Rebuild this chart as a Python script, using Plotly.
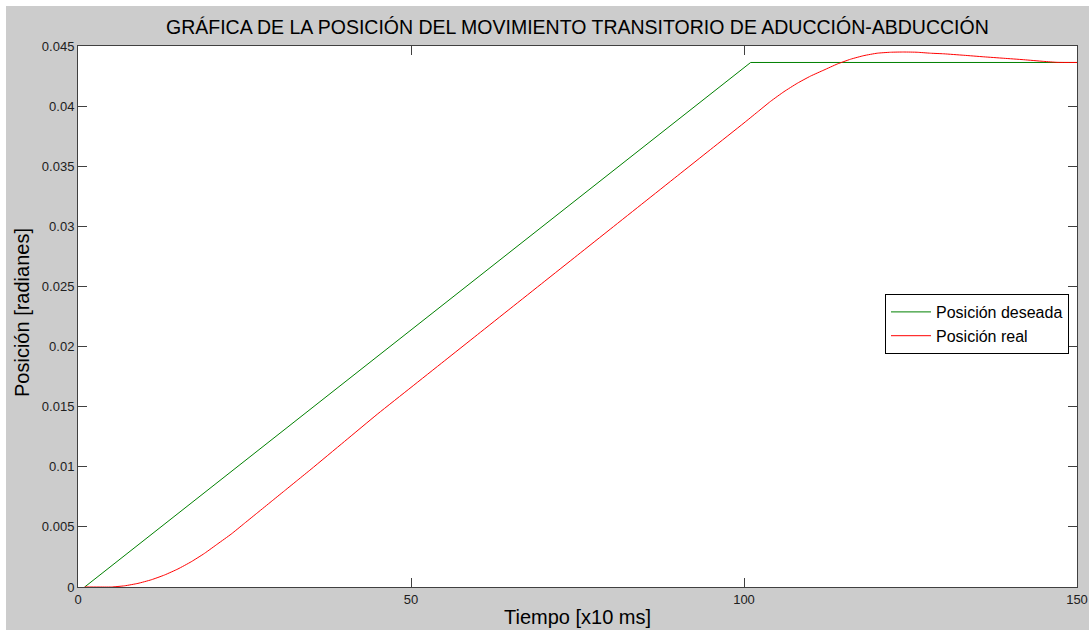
import plotly.graph_objects as go

# Desired position (green): linear ramp then hold
t_deseada = [1, 101, 150]
pos_deseada = [0.0, 0.04363, 0.04363]

# Real position (red)
t_real = [1, 3, 5, 7, 9, 11, 13, 15, 17, 19, 21, 23, 25, 27, 29, 31, 33, 35, 40, 45, 50,
          55, 60, 65, 70, 75, 80, 85, 90, 95, 100, 102, 104, 106, 108, 110, 112, 114,
          116, 118, 120, 122, 124, 126, 128, 130, 133, 136, 139, 142, 145, 147, 150]
pos_real = [0.0, 0.0, 0.0, 0.0001, 0.0003, 0.0006, 0.0010, 0.0015, 0.0021, 0.0028,
            0.0036, 0.0044, 0.0053, 0.0062, 0.0071, 0.0080, 0.0089, 0.0098, 0.0121,
            0.0144, 0.0166, 0.0188, 0.0210, 0.0232, 0.0254, 0.0276, 0.0298, 0.0320,
            0.0342, 0.0364, 0.0386, 0.0395, 0.0404, 0.0412, 0.0419, 0.0425, 0.0430,
            0.0435, 0.0439, 0.0442, 0.0444, 0.04448, 0.0445, 0.04448, 0.0444, 0.04435,
            0.04423, 0.0441, 0.04398, 0.04386, 0.04372, 0.04364, 0.04363]

x_ticks = [0, 50, 100, 150]
y_ticks = [0, 0.005, 0.01, 0.015, 0.02, 0.025, 0.03, 0.035, 0.04, 0.045]
y_tick_text = ["0", "0.005", "0.01", "0.015", "0.02", "0.025", "0.03", "0.035", "0.04", "0.045"]

FONT = "Liberation Sans, Arial, sans-serif"
W, H = 1089, 630
ML, MR, MT, MB = 78, 12, 46, 43
PW = W - ML - MR
PH = H - MT - MB

fig = go.Figure()
fig.add_trace(go.Scatter(x=t_deseada, y=pos_deseada, mode="lines",
                         line=dict(color="#008000", width=1), name="Posición deseada"))
fig.add_trace(go.Scatter(x=t_real, y=pos_real, mode="lines",
                         line=dict(color="#ff0000", width=1, shape="spline", smoothing=0.5),
                         name="Posición real"))

axis_common = dict(showline=True, linecolor="#404040", linewidth=1, mirror="ticks",
                   ticks="inside", ticklen=9, tickcolor="#404040", showgrid=False,
                   zeroline=False, tickfont=dict(family=FONT, size=13, color="#202020"))

fig.update_xaxes(range=[0, 150], tickvals=x_ticks, **axis_common)
fig.update_yaxes(range=[0, 0.045], tickvals=y_ticks, ticktext=y_tick_text, **axis_common)

def px(x):
    return (x - ML) / PW

def py(y):
    return (H - MB - y) / PH

shapes = [
    dict(type="rect", xref="paper", yref="paper", x0=px(0), x1=px(W), y0=py(0), y1=py(6),
         fillcolor="white", line=dict(width=0), layer="below"),
    dict(type="rect", xref="paper", yref="paper", x0=px(0), x1=px(6), y0=py(0), y1=py(H),
         fillcolor="white", line=dict(width=0), layer="below"),
]

annotations = [
    dict(text="GRÁFICA DE LA POSICIÓN DEL MOVIMIENTO TRANSITORIO DE ADUCCIÓN-ABDUCCIÓN",
         xref="paper", yref="paper", x=0.5, y=py(27), xanchor="center", yanchor="middle",
         showarrow=False, font=dict(family=FONT, size=19.5, color="black")),
    dict(text="Tiempo [x10 ms]", xref="paper", yref="paper", x=0.5, y=py(617),
         xanchor="center", yanchor="middle", showarrow=False,
         font=dict(family=FONT, size=20, color="black")),
    dict(text="Posición [radianes]", xref="paper", yref="paper", x=px(22), y=py(313),
         xanchor="center", yanchor="middle", showarrow=False, textangle=-90,
         font=dict(family=FONT, size=20, color="black")),
]

fig.update_layout(
    width=W, height=H,
    margin=dict(l=ML, r=MR, t=MT, b=MB, autoexpand=False),
    paper_bgcolor="#cccccc", plot_bgcolor="white",
    showlegend=True,
    legend=dict(x=px(885), y=py(294), xanchor="left", yanchor="top",
                bgcolor="white", bordercolor="black", borderwidth=1,
                font=dict(family=FONT, size=16, color="black"),
                tracegroupgap=0, itemwidth=40),
    shapes=shapes, annotations=annotations,
)

fig.write_html("out.html", config={"displayModeBar": False},
               post_script="document.body.style.margin='0';document.body.style.padding='0';")
